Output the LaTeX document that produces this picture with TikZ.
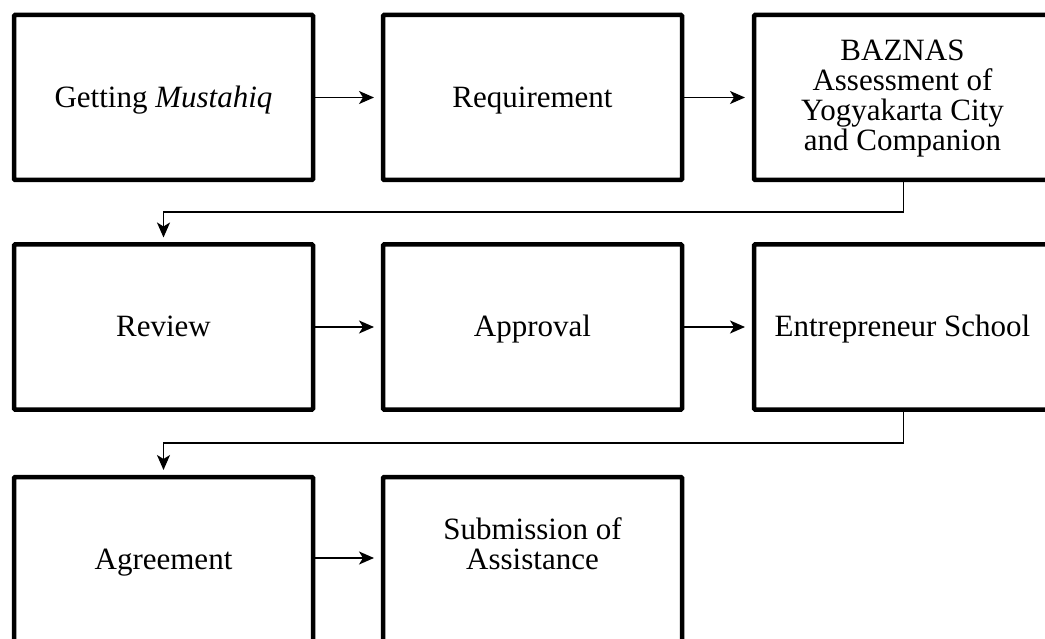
\documentclass[tikz,border=0pt]{standalone}
\usepackage{fontspec}
\setmainfont{Liberation Serif}
\usetikzlibrary{arrows.meta}
\begin{document}
\begin{tikzpicture}[x=1pt,y=-1pt,
  box/.style={draw, line width=4.5pt, rounded corners=1pt, minimum width=299pt, minimum height=165pt, inner sep=0pt, outer sep=0pt},
  txt/.style={align=center, font=\fontsize{31}{30}\selectfont, inner sep=0pt},
  conn/.style={line width=1.6pt, -{Stealth[length=15pt,width=13pt,inset=4pt]}},
]
\useasboundingbox (0,0) rectangle (1045,639);
\clip (0,0) rectangle (1045,639);
% row 1
\node[box] (b1) at (163.5,97.5) {};
\node[box] (b2) at (532.5,97.5) {};
\node[box] (b3) at (903.5,97.5) {};
% row 2
\node[box] (b4) at (163.5,327) {};
\node[box] (b5) at (532.5,327) {};
\node[box] (b6) at (903.5,327) {};
% row 3
\node[box] (b7) at (163.5,559.5) {};
\node[box] (b8) at (532.5,559.5) {};
% texts
\node[txt, anchor=base] (t1) at (163.5,107.5) {Getting \textit{Mustahiq}};
\node[txt, anchor=base] (t2) at (532.5,107.5) {Requirement};
\node[txt] (t3) at (902.5,99) {BAZNAS\\Assessment of\\Yogyakarta City\\and Companion};
\node[txt, anchor=base] (t4) at (163.5,337) {Review};
\node[txt, anchor=base] (t5) at (532.5,337) {Approval};
\node[txt, anchor=base] (t6) at (902.5,337) {Entrepreneur School};
\node[txt, anchor=base] (t7) at (163.5,569) {Agreement};
\node[txt, anchor=base] (t8) at (532.5,569) {Submission of\\Assistance};
% connectors
\coordinate (k1) at (903.5,212);
\coordinate (k2) at (903.5,443);
\draw[conn, shorten >=9pt] (b1.east) -- (b2.west);
\draw[conn, shorten >=9pt] (b2.east) -- (b3.west);
\draw[conn, shorten >=7pt] (b3.south) -- (k1) -| (b4.north);
\draw[conn, shorten >=9pt] (b4.east) -- (b5.west);
\draw[conn, shorten >=9pt] (b5.east) -- (b6.west);
\draw[conn, shorten >=7pt] (b6.south) -- (k2) -| (b7.north);
\draw[conn, shorten >=9pt] (b7.east|-0,558) -- (b8.west|-0,558);
\end{tikzpicture}
\end{document}
